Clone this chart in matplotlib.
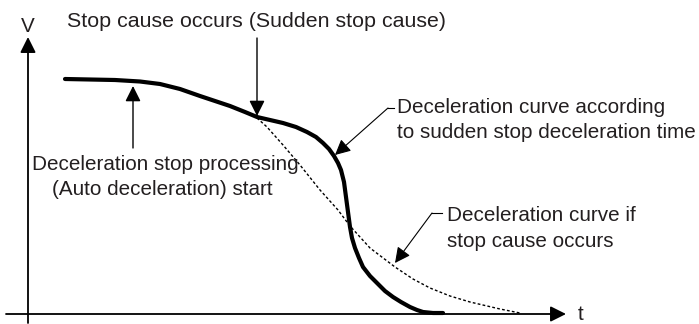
import matplotlib
matplotlib.use('Agg')
import matplotlib.pyplot as plt

plt.rcParams['font.family'] = ['Liberation Sans', 'DejaVu Sans']

# positions in picture pixels (y down)
# speed curve with sudden stop (solid, thick)
sudden_x = [65, 90, 115, 140, 160, 180, 200, 215, 230, 245, 257, 270, 283, 296, 307,
            316, 323, 329, 334, 338, 341, 344, 346, 348, 350, 352, 355, 359, 363, 370,
            377, 385, 393, 401, 410, 417, 423, 433, 443]
sudden_y = [79, 79.5, 80, 81.5, 84, 89, 96, 101, 106, 112, 117, 120, 123, 127, 132,
            137, 143, 149, 156, 163, 170, 182, 197, 212, 227, 238, 248, 258, 267, 276,
            283, 291, 297, 302, 307, 310, 312, 313, 313]

# deceleration curve if stop cause occurs (dotted)
auto_x = [257, 267, 283, 300, 320, 338, 350, 370, 395, 413, 430, 450, 470, 500, 520]
auto_y = [118, 127, 145, 165, 190, 210, 226, 248, 267, 279, 288, 296, 302, 309, 313]

txt = '#231f20'
fs = 14.9

fig = plt.figure(figsize=(6.99, 3.24), dpi=100)
ax = fig.add_axes([0, 0, 1, 1])
ax.set_xlim(0, 699)
ax.set_ylim(324, 0)
ax.axis('off')


def arrow(x0, y0, x1, y1, lw=1.0, hl=13, hw=6.5):
    ax.annotate('', xy=(x1, y1), xytext=(x0, y0),
                arrowprops=dict(arrowstyle='-|>,head_length=%.2f,head_width=%.2f'
                                % (hl * 0.72 / 10, hw * 0.72 / 10),
                                mutation_scale=10, color='black', lw=lw,
                                shrinkA=0, shrinkB=0))


# axes
arrow(28, 323, 28, 37, lw=1.3, hl=13, hw=6.5)
arrow(6, 314, 566, 314, lw=1.3, hl=13, hw=6.5)
ax.text(28, 32, 'V', fontsize=fs, color=txt, ha='center', va='baseline')
ax.text(578, 320, 't', fontsize=fs, color=txt, ha='left', va='baseline')

# curves
ax.plot(auto_x, auto_y, color='black', lw=1.0, ls=(0, (2, 1.6)))
ax.plot(sudden_x, sudden_y, color='black', lw=3.0, solid_capstyle='round',
        solid_joinstyle='round')

# stop cause label
ax.text(67, 27, 'Stop cause occurs (Sudden stop cause)', fontsize=15.4, color=txt,
        ha='left', va='baseline')
arrow(257, 38, 257, 116)

# auto deceleration start
arrow(133, 148, 133, 86)
ax.text(165, 170, 'Deceleration stop processing', fontsize=fs, color=txt,
        ha='center', va='baseline')
ax.text(162, 195, '(Auto deceleration) start', fontsize=fs, color=txt,
        ha='center', va='baseline')

# sudden stop deceleration curve label
ax.plot([388, 394], [108, 108], color='black', lw=0.8)
arrow(388, 108, 335, 155, lw=0.8)
ax.text(397, 113, 'Deceleration curve according', fontsize=fs, color=txt,
        ha='left', va='baseline')
ax.text(397, 138, 'to sudden stop deceleration time', fontsize=fs, color=txt,
        ha='left', va='baseline')

# dotted curve label
ax.plot([432, 442], [213, 213], color='black', lw=0.8)
arrow(432, 213, 395, 263, lw=0.8)
ax.text(447, 221, 'Deceleration curve if', fontsize=fs, color=txt,
        ha='left', va='baseline')
ax.text(447, 247, 'stop cause occurs', fontsize=fs, color=txt,
        ha='left', va='baseline')

fig.savefig('out.png', dpi=100)
